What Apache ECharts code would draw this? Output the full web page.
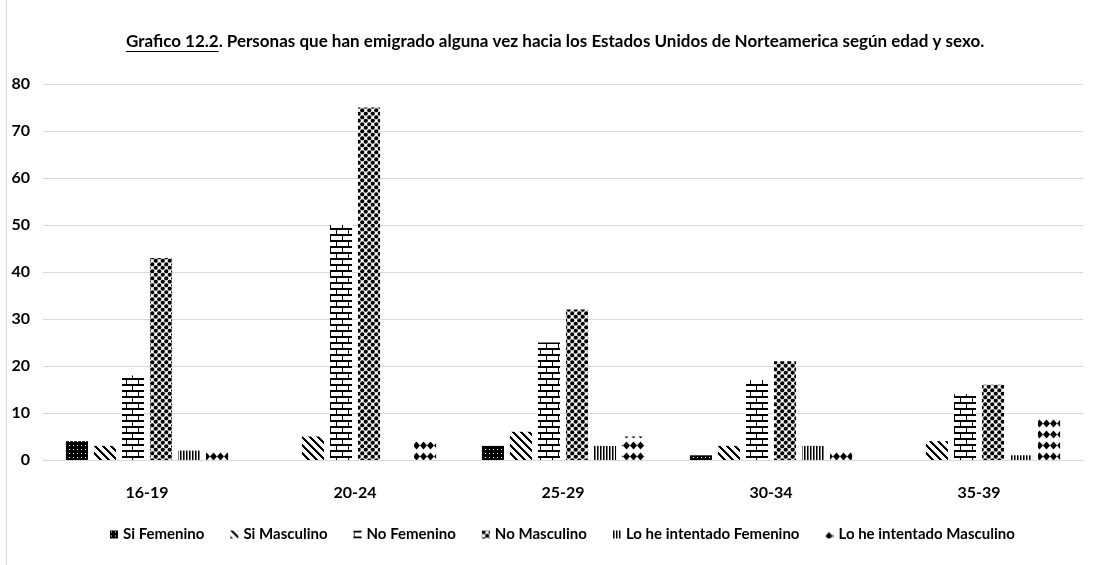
<!DOCTYPE html>
<html>
<head>
<meta charset="utf-8">
<script src="https://cdn.jsdelivr.net/npm/echarts@6/dist/echarts.min.js"></script>
<style>
html, body { margin: 0; padding: 0; background: #fff; }
#chart { width: 1096px; height: 565px; }
</style>
</head>
<body>
<div id="chart"></div>
<script>
// datos
var categories = ['16-19', '20-24', '25-29', '30-34', '35-39'];
var siFemenino = [4, 0, 3, 1, 0];
var siMasculino = [3, 5, 6, 3, 4];
var noFemenino = [18, 50, 25, 17, 14];
var noMasculino = [43, 75, 32, 21, 16];
var intentadoFemenino = [2, 0, 3, 3, 1];
var intentadoMasculino = [2, 4, 5, 2, 9];
var seriesNames = ['Si Femenino', 'Si Masculino', 'No Femenino', 'No Masculino',
  'Lo he intentado Femenino', 'Lo he intentado Masculino'];

var FONT = 'Lato, "Open Sans", sans-serif';

// tramas tipo Excel
function tile(w, h, draw) {
  var c = document.createElement('canvas');
  c.width = w; c.height = h;
  var ctx = c.getContext('2d');
  ctx.fillStyle = '#fff';
  ctx.fillRect(0, 0, w, h);
  ctx.fillStyle = '#000';
  draw(ctx, w, h);
  return { image: c, repeat: 'repeat' };
}

var patterns = [
  // Si Femenino: casi negro con puntitos blancos
  tile(4, 4, function (ctx) {
    ctx.fillRect(0, 0, 4, 4);
    ctx.fillStyle = '#fff';
    ctx.fillRect(1, 1, 1, 1);
  }),
  // Si Masculino: diagonales gruesas
  tile(8, 8, function (ctx) {
    for (var y = 0; y < 8; y++) {
      for (var x = 0; x < 8; x++) {
        if (((x - y) % 8 + 8) % 8 < 3) ctx.fillRect(x, y, 1, 1);
      }
    }
  }),
  // No Femenino: ladrillos
  tile(12, 12, function (ctx) {
    ctx.fillRect(0, 0, 12, 2);
    ctx.fillRect(0, 6, 12, 2);
    ctx.fillRect(0, 0, 1, 6);
    ctx.fillRect(6, 6, 1, 6);
  }),
  // No Masculino: esferas
  tile(7, 7, function (ctx) {
    var pts = [[1.75, 1.75], [5.25, 5.25]];
    for (var i = 0; i < pts.length; i++) {
      for (var dx = -7; dx <= 7; dx += 7) {
        for (var dy = -7; dy <= 7; dy += 7) {
          ctx.beginPath();
          ctx.arc(pts[i][0] + dx, pts[i][1] + dy, 2.1, 0, Math.PI * 2);
          ctx.fill();
        }
      }
    }
  }),
  // Lo he intentado Femenino: verticales
  tile(3, 2, function (ctx) {
    ctx.fillRect(0, 0, 1, 2);
    ctx.fillStyle = '#777';
    ctx.fillRect(1, 0, 1, 2);
  }),
  // Lo he intentado Masculino: rombos
  tile(7, 11, function (ctx) {
    ctx.beginPath();
    ctx.moveTo(3.5, 1.5);
    ctx.lineTo(7, 5.5);
    ctx.lineTo(3.5, 9.5);
    ctx.lineTo(0, 5.5);
    ctx.closePath();
    ctx.fill();
  })
];

var values = [siFemenino, siMasculino, noFemenino, noMasculino, intentadoFemenino, intentadoMasculino];

var series = values.map(function (arr, i) {
  return {
    name: seriesNames[i],
    type: 'bar',
    data: arr,
    barGap: '27%',
    barCategoryGap: '22%',
    itemStyle: { color: patterns[i] },
    emphasis: { disabled: true }
  };
});

var titleLead = 'Grafico 12.2';
var titleRest = '. Personas que han emigrado alguna vez hacia los Estados Unidos de Norteamerica según edad y sexo.';
var titleSize = 17;
var titleFont = 'bold ' + titleSize + 'px ' + FONT;
var mctx = document.createElement('canvas').getContext('2d');
mctx.font = titleFont;
var leadWidth = mctx.measureText(titleLead).width;
var fullWidth = mctx.measureText(titleLead + titleRest).width;
var titleX = Math.round(555 - fullWidth / 2);

var myChart = echarts.init(document.getElementById('chart'));
var option = {
  backgroundColor: '#fff',
  animation: false,
  title: {
    left: titleX - 5,
    top: 28,
    text: titleLead + titleRest,
    textStyle: { fontFamily: FONT, fontSize: titleSize, fontWeight: 'bold', color: '#000' }
  },
  graphic: [
    {
      type: 'line',
      shape: { x1: titleX, y1: 51.5, x2: titleX + leadWidth, y2: 51.5 },
      style: { stroke: '#000', lineWidth: 1 }
    },
    {
      type: 'line',
      shape: { x1: 6.5, y1: 0, x2: 6.5, y2: 565 },
      style: { stroke: '#d9d9d9', lineWidth: 1 }
    }
  ],
  legend: {
    data: seriesNames,
    bottom: 18,
    left: 105,
    itemWidth: 8,
    itemHeight: 8,
    itemGap: 26,
    icon: 'rect',
    textStyle: { fontFamily: FONT, fontSize: 15, fontWeight: 'bold', color: '#000' }
  },
  grid: { left: 43, right: 13, top: 84, bottom: 105 },
  xAxis: {
    type: 'category',
    data: categories,
    axisTick: { show: false },
    axisLine: { lineStyle: { color: '#d9d9d9' } },
    axisLabel: { margin: 25, fontFamily: FONT, fontSize: 16, fontWeight: 'bold', color: '#000' }
  },
  yAxis: {
    type: 'value',
    min: 0,
    max: 80,
    interval: 10,
    axisLabel: { margin: 13, fontFamily: FONT, fontSize: 16, fontWeight: 'bold', color: '#000' },
    splitLine: { lineStyle: { color: '#d9d9d9' } }
  },
  series: series
};
myChart.setOption(option);
</script>
</body>
</html>
